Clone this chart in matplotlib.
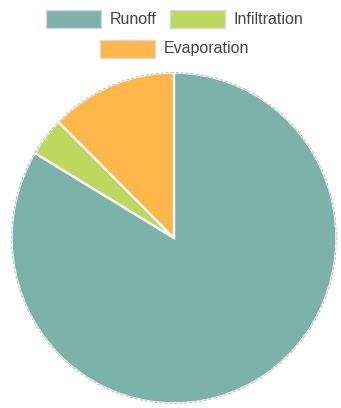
import matplotlib
matplotlib.use("Agg")
import matplotlib.pyplot as plt
from matplotlib.patches import Rectangle, Ellipse

labels = ["Runoff", "Infiltration", "Evaporation"]
values = [83.6, 3.8, 12.6]
colors = ["#7db2aa", "#bdd75f", "#ffb64b"]

W, H = 341, 408
fig = plt.figure(figsize=(W / 100, H / 100), dpi=100)
plt.rcParams['font.family'] = ['Liberation Sans', 'DejaVu Sans']

# pie axes (pixel geometry converted to figure fractions)
left, right, top, bottom = 10, 338, 71, 405
ax = fig.add_axes([left / W, (H - bottom) / H, (right - left) / W, (bottom - top) / H])
ax.pie(values, colors=colors, startangle=90, counterclock=False,
       wedgeprops=dict(edgecolor="white", linewidth=1.6))
ax.add_patch(Ellipse((0, 0), 2.0, 2.0, facecolor="none", edgecolor="#777777",
                     linewidth=0.6, alpha=0.55, linestyle=(0, (4, 2))))
ax.set_aspect("auto")
ax.set_xlim(-1.01, 1.01)
ax.set_ylim(-1.01, 1.01)
ax.axis("off")

# legend drawn manually, chart.js style
items = [(labels[0], colors[0], 46, 10), (labels[1], colors[1], 170, 10), (labels[2], colors[2], 100, 40)]
bw, bh = 55, 18
for lab, col, x, y in items:
    fig.patches.append(Rectangle((x / W, (H - y - bh) / H), bw / W, bh / H,
                                 transform=fig.transFigure, facecolor=col,
                                 edgecolor="#d8d8d8", linewidth=1.0))
    fig.text((x + bw + 9) / W, (H - y - bh / 2) / H, lab, ha="left", va="center",
             fontsize=11.5, color="#444444")

fig.savefig("out.png", dpi=100)
